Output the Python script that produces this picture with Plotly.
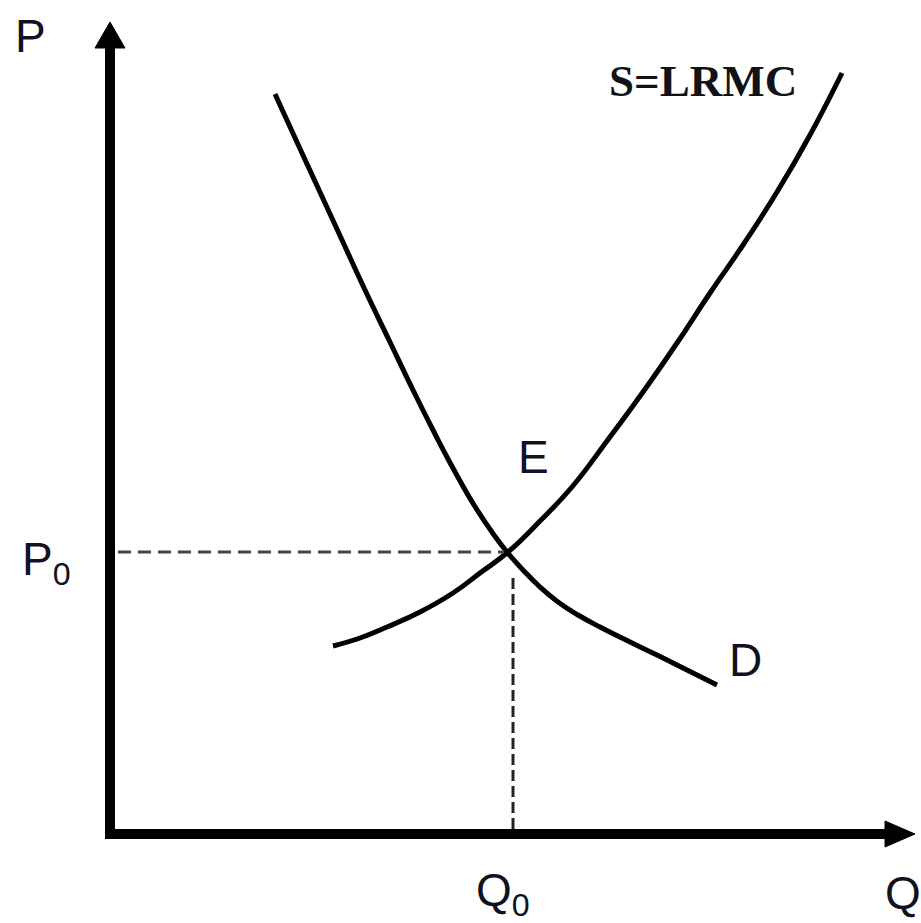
import plotly.graph_objects as go

# Coordinates (origin at the axes corner, units ~ pixels)
OX, OY = 110, 834  # pixel position of axis origin in the reference

demand_px = [(275, 94), (296, 140), (319, 190), (342, 240), (365, 290), (389, 340),
             (413, 390), (433, 430), (454, 470), (474, 505), (494, 535), (507, 552),
             (523, 570), (540, 587), (558, 602), (578, 615), (600, 627), (628, 641),
             (657, 655), (687, 670), (717, 685)]
supply_px = [(333, 646), (360, 638), (387, 627), (420, 612), (453, 593), (480, 573),
             (508, 552), (540, 521), (572, 487), (607, 441), (643, 392), (677, 343),
             (710, 293), (743, 245), (777, 192), (810, 135), (842, 73)]

demand_q = [x - OX for x, y in demand_px]
demand_p = [OY - y for x, y in demand_px]
supply_q = [x - OX for x, y in supply_px]
supply_p = [OY - y for x, y in supply_px]

eq_q, eq_p = 398, 282          # equilibrium E (Q0, P0)
q0_line_q = 403                # vertical dashed guide position
axis_q_max, axis_p_max = 805, 812  # arrow tips

fig = go.Figure()
fig.add_trace(go.Scatter(x=demand_q, y=demand_p, mode="lines",
                         line=dict(color="black", width=5, shape="spline", smoothing=1.3),
                         hoverinfo="skip", showlegend=False))
fig.add_trace(go.Scatter(x=supply_q, y=supply_p, mode="lines",
                         line=dict(color="black", width=5, shape="spline", smoothing=1.3),
                         hoverinfo="skip", showlegend=False))

# dashed guides
fig.add_trace(go.Scatter(x=[8, eq_q - 4], y=[eq_p, eq_p], mode="lines",
                         line=dict(color="#444444", width=3, dash="13px,7px"),
                         hoverinfo="skip", showlegend=False))
fig.add_trace(go.Scatter(x=[q0_line_q, q0_line_q], y=[eq_p - 26, 0], mode="lines",
                         line=dict(color="#222222", width=3, dash="11px,5px"),
                         hoverinfo="skip", showlegend=False))

shapes = []
# axes lines
shapes.append(dict(type="line", xref="x", yref="y", x0=0, y0=-4, x1=0, y1=axis_p_max - 26,
                   line=dict(color="black", width=10)))
shapes.append(dict(type="line", xref="x", yref="y", x0=-5, y0=0, x1=axis_q_max - 28, y1=0,
                   line=dict(color="black", width=10)))
# arrow heads
shapes.append(dict(type="path", xref="x", yref="y",
                   path=f"M {-15},{axis_p_max-26} L 15,{axis_p_max-26} L 0,{axis_p_max} Z",
                   fillcolor="black", line=dict(color="black", width=1)))
shapes.append(dict(type="path", xref="x", yref="y",
                   path=f"M {axis_q_max-30},-13 L {axis_q_max-30},13 L {axis_q_max},0 Z",
                   fillcolor="black", line=dict(color="black", width=1)))

lab = dict(family="Liberation Sans, Arial, sans-serif", size=46, color="#111122")
ann = [
    dict(x=30 - OX, y=OY - 36, text="P", font=lab),
    dict(x=46 - OX, y=OY - 562, text="P<sub>0</sub>", font=lab),
    dict(x=533 - OX, y=OY - 457, text="E", font=lab),
    dict(x=745 - OX, y=OY - 660, text="D", font=lab),
    dict(x=503 - OX, y=OY - 893, text="Q<sub>0</sub>", font=lab),
    dict(x=903 - OX, y=OY - 893, text="Q", font=lab),
    dict(x=703 - OX, y=OY - 81, text="<b>S=LRMC</b>",
         font=dict(family="Liberation Serif, Times New Roman, serif", size=45, color="#111118")),
]
for a in ann:
    a.update(xref="x", yref="y", showarrow=False, xanchor="center", yanchor="middle")

fig.update_layout(
    width=921, height=923, margin=dict(l=0, r=0, t=0, b=0),
    paper_bgcolor="white", plot_bgcolor="white",
    xaxis=dict(range=[-OX, 921 - OX], visible=False, fixedrange=True),
    yaxis=dict(range=[OY - 923, OY], visible=False, fixedrange=True),
    shapes=shapes, annotations=ann, showlegend=False,
)
fig.write_html("out.html", config={"displayModeBar": False},
               post_script="document.body.style.margin='0';document.body.style.overflow='hidden';")
